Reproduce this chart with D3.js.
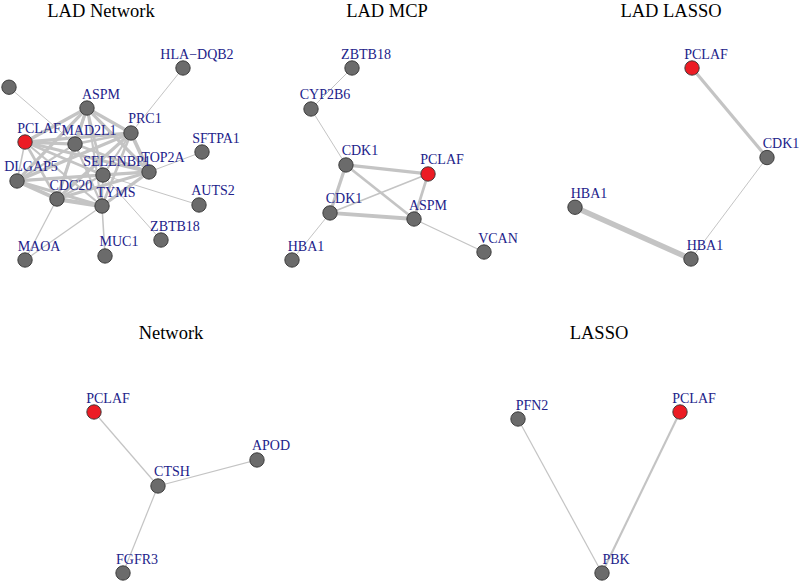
<!DOCTYPE html>
<html>
<head>
<meta charset="utf-8">
<script src="https://cdn.jsdelivr.net/npm/d3@7"></script>
<style>
  body { margin: 0; background: #fff; }
  text { font-family: "Liberation Serif", "Times New Roman", serif; }
</style>
</head>
<body>
<svg width="800" height="584"></svg>
<script>
// Panel titles
const titles = ["LAD Network", "LAD MCP", "LAD LASSO", "Network", "LASSO"];

// Nodes: [id, label, x, y] in layout coordinates (-1..1, y up)
const ladNetworkNodes = [
    ["X0", "", -1.0, 0.80],
    ["HLA-DQB2", "HLA\u2212DQB2", 0.803, 1.0],
    ["ASPM", "ASPM", -0.192, 0.583],
    ["PRC1", "PRC1", 0.264, 0.323],
    ["PCLAF", "PCLAF", -0.834, 0.229],
    ["MAD2L1", "MAD2L1", -0.316, 0.208],
    ["SFTPA1", "SFTPA1", 1.0, 0.125],
    ["DLGAP5", "DLGAP5", -0.917, -0.177],
    ["SELENBP1", "SELENBP1", -0.026, -0.115],
    ["TOP2A", "TOP2A", 0.451, -0.083],
    ["CDC20", "CDC20", -0.503, -0.365],
    ["TYMS", "TYMS", -0.036, -0.438],
    ["AUTS2", "AUTS2", 0.969, -0.427],
    ["ZBTB18", "ZBTB18", 0.575, -0.792],
    ["MAOA", "MAOA", -0.834, -1.0],
    ["MUC1", "MUC1", -0.005, -0.958]
];
const ladMcpNodes = [
    ["ZBTB18", "ZBTB18", -0.375, 1.0],
    ["CYP2B6", "CYP2B6", -0.802, 0.573],
    ["CDK1a", "CDK1", -0.438, -0.010],
    ["PCLAF", "PCLAF", 0.417, -0.104],
    ["CDK1b", "CDK1", -0.604, -0.510],
    ["ASPM", "ASPM", 0.271, -0.573],
    ["HBA1", "HBA1", -1.0, -1.0],
    ["VCAN", "VCAN", 1.0, -0.917]
];
const ladLassoNodes = [
    ["PCLAF", "PCLAF", 0.219, 1.0],
    ["CDK1", "CDK1", 1.0, 0.0625],
    ["HBA1a", "HBA1", -1.0, -0.458],
    ["HBA1b", "HBA1", 0.208, -1.0]
];
const networkNodes = [
    ["PCLAF", "PCLAF", -1.0, 1.0],
    ["APOD", "APOD", 1.0, 0.404],
    ["CTSH", "CTSH", -0.215, 0.081],
    ["FGFR3", "FGFR3", -0.644, -1.0]
];
const lassoNodes = [
    ["PFN2", "PFN2", -1.0, 0.913],
    ["PCLAF", "PCLAF", 1.0, 1.0],
    ["PBK", "PBK", 0.037, -1.0]
];

// Edges: [source, target, weight]
const ladNetworkEdges = [
    ["PCLAF", "ASPM", 3], ["PCLAF", "MAD2L1", 3], ["PCLAF", "PRC1", 3], ["PCLAF", "DLGAP5", 1.5],
    ["PCLAF", "SELENBP1", 2.5], ["PCLAF", "TOP2A", 3], ["PCLAF", "CDC20", 2.5], ["PCLAF", "TYMS", 2],
    ["ASPM", "PRC1", 3], ["ASPM", "MAD2L1", 2.5], ["ASPM", "DLGAP5", 3], ["ASPM", "SELENBP1", 2.5],
    ["ASPM", "TOP2A", 3], ["ASPM", "CDC20", 3], ["ASPM", "TYMS", 2],
    ["PRC1", "MAD2L1", 2.5], ["PRC1", "DLGAP5", 3], ["PRC1", "SELENBP1", 2], ["PRC1", "TOP2A", 3.5],
    ["PRC1", "CDC20", 3], ["PRC1", "TYMS", 2.5],
    ["MAD2L1", "DLGAP5", 2], ["MAD2L1", "TOP2A", 2.5], ["MAD2L1", "CDC20", 2], ["MAD2L1", "TYMS", 2],
    ["DLGAP5", "SELENBP1", 2], ["DLGAP5", "TOP2A", 3], ["DLGAP5", "CDC20", 3.5], ["DLGAP5", "TYMS", 3],
    ["SELENBP1", "TOP2A", 2], ["SELENBP1", "CDC20", 2], ["SELENBP1", "TYMS", 1.5],
    ["TOP2A", "CDC20", 3], ["TOP2A", "TYMS", 3], ["CDC20", "TYMS", 4],
    ["X0", "MAD2L1", 1], ["HLA-DQB2", "PRC1", 1], ["SFTPA1", "TOP2A", 1], ["AUTS2", "SELENBP1", 1],
    ["ZBTB18", "SELENBP1", 1], ["MUC1", "TYMS", 1.5], ["MAOA", "CDC20", 1.2], ["MAOA", "TYMS", 1.2]
];
const ladMcpEdges = [
    ["ZBTB18", "CYP2B6", 1], ["CYP2B6", "CDK1a", 1], ["CDK1a", "PCLAF", 3], ["CDK1a", "CDK1b", 3],
    ["CDK1a", "ASPM", 2.5], ["CDK1b", "PCLAF", 1.5], ["CDK1b", "ASPM", 3.5], ["PCLAF", "ASPM", 2.5],
    ["CDK1b", "HBA1", 1], ["ASPM", "VCAN", 1.2]
];
const ladLassoEdges = [
    ["PCLAF", "CDK1", 3], ["CDK1", "HBA1b", 1], ["HBA1a", "HBA1b", 5]
];
const networkEdges = [
    ["PCLAF", "CTSH", 1.2], ["CTSH", "APOD", 1.2], ["CTSH", "FGFR3", 1.2]
];
const lassoEdges = [
    ["PFN2", "PBK", 1.2], ["PCLAF", "PBK", 2]
];

const svg = d3.select("svg");

// Panel placement (pixel box the layout is stretched into, title position)
const panels = [
    { nodes: ladNetworkNodes, edges: ladNetworkEdges, x: [9, 202], y: [260, 68], tx: 101, ty: 17 },
    { nodes: ladMcpNodes, edges: ladMcpEdges, x: [292, 484], y: [260, 68], tx: 387, ty: 17 },
    { nodes: ladLassoNodes, edges: ladLassoEdges, x: [575, 767], y: [259, 68], tx: 671, ty: 17 },
    { nodes: networkNodes, edges: networkEdges, x: [94, 257], y: [573, 412], tx: 171, ty: 339 },
    { nodes: lassoNodes, edges: lassoEdges, x: [518, 680], y: [573, 412], tx: 599, ty: 339 }
];

const widthScale = d3.scaleLinear().domain([1, 5]).range([1, 5.5]);

panels.forEach((p, i) => {
    const xs = d3.scaleLinear().domain([-1, 1]).range(p.x);
    const ys = d3.scaleLinear().domain([-1, 1]).range(p.y);
    const byId = new Map(p.nodes.map(d => [d[0], d]));
    const g = svg.append("g");

    g.append("text")
        .attr("x", p.tx)
        .attr("y", p.ty)
        .attr("text-anchor", "middle")
        .style("font-size", "18.5px")
        .style("fill", "#000")
        .text(titles[i]);

    g.selectAll("line")
        .data(p.edges)
        .join("line")
            .attr("x1", d => xs(byId.get(d[0])[2]))
            .attr("y1", d => ys(byId.get(d[0])[3]))
            .attr("x2", d => xs(byId.get(d[1])[2]))
            .attr("y2", d => ys(byId.get(d[1])[3]))
            .attr("stroke", "#c4c4c4")
            .attr("stroke-width", d => widthScale(d[2]));

    g.selectAll("circle")
        .data(p.nodes)
        .join("circle")
            .attr("cx", d => xs(d[2]))
            .attr("cy", d => ys(d[3]))
            .attr("r", 7.2)
            .attr("fill", d => d[0] === "PCLAF" ? "#ec1c24" : "#6b6b6b")
            .attr("stroke", "#333")
            .attr("stroke-width", 0.9);

    g.selectAll("text.lbl")
        .data(p.nodes)
        .join("text")
            .attr("class", "lbl")
            .attr("x", d => xs(d[2]) + 14)
            .attr("y", d => ys(d[3]) - 9.5)
            .attr("text-anchor", "middle")
            .style("font-size", "14px")
            .style("fill", "#22228a")
            .text(d => d[1]);
});
</script>
</body>
</html>
